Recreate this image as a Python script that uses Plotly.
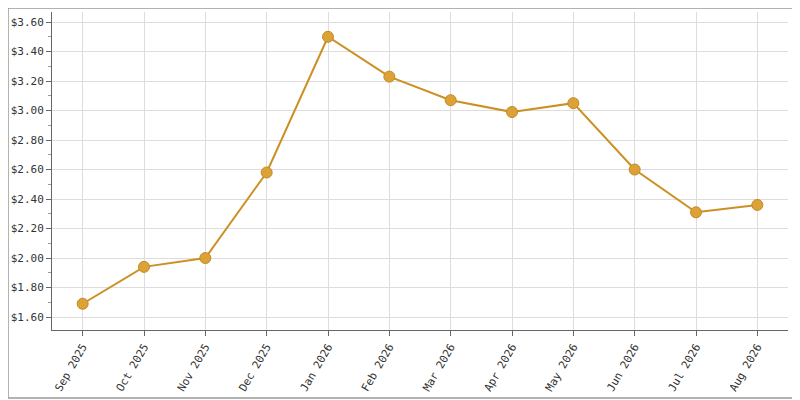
import plotly.graph_objects as go

months = ["Sep 2025", "Oct 2025", "Nov 2025", "Dec 2025", "Jan 2026", "Feb 2026",
          "Mar 2026", "Apr 2026", "May 2026", "Jun 2026", "Jul 2026", "Aug 2026"]
prices = [1.69, 1.94, 2.00, 2.58, 3.50, 3.23, 3.07, 2.99, 3.05, 2.60, 2.31, 2.36]

fig = go.Figure(go.Scatter(
    x=list(range(len(months))), y=prices, mode="lines+markers",
    line=dict(color="#cc8f22", width=2),
    marker=dict(size=11, color="#dca236", line=dict(color="#c08a2a", width=1)),
))

# page body adds ~8px offset, so margins are shifted to compensate
fig.update_layout(
    width=800, height=400, margin=dict(l=44, r=20, t=4, b=78),
    plot_bgcolor="white", paper_bgcolor="white", showlegend=False,
    font=dict(family="DejaVu Sans Mono", size=11, color="#333333"),
    shapes=[dict(type="rect", xref="paper", yref="paper", x0=-0.0598, x1=1.0136,
                 y0=-0.2138, y1=1.0126, line=dict(color="#999999", width=1.5))],
)
fig.update_xaxes(
    range=[-0.5, 11.5], tickvals=list(range(len(months))), ticktext=months,
    tickangle=-60, showgrid=True, gridcolor="#dddddd", ticks="outside",
    ticklen=5, tickcolor="#666666", showline=True, linecolor="#666666", zeroline=False,
)
fig.update_yaxes(
    range=[1.512, 3.668], tickvals=[1.6 + 0.2 * i for i in range(11)],
    tickformat="$.2f", showgrid=True, gridcolor="#dddddd", ticks="outside",
    ticklen=5, tickcolor="#666666", showline=True, linecolor="#666666", zeroline=False,
    minor=dict(dtick=0.1, tick0=1.5, ticks="outside", ticklen=3, tickcolor="#999999", showgrid=False),
)

fig.write_html("out.html")
